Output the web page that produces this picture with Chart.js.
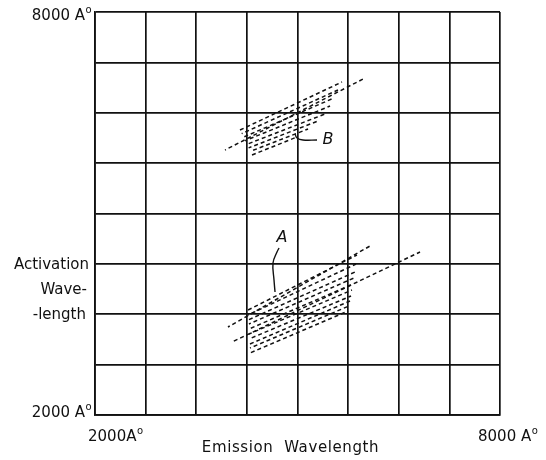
<!DOCTYPE html>
<html>
<head>
<meta charset="utf-8">
<script src="https://cdn.jsdelivr.net/npm/chart.js@4.4.1/dist/chart.umd.min.js"></script>
<style>
  html, body { margin: 0; padding: 0; background: #fff; }
  canvas { display: block; }
</style>
</head>
<body>
<canvas id="spectrum" width="546" height="460"></canvas>
<script>
// axis range (Angstrom) and grid positions
const axisMin = 2000;
const axisMax = 8000;
const gridTicks = [2000, 2750, 3500, 4250, 5000, 5750, 6500, 7250, 8000];

// band A: hatch lines (start / end points), last two are the long extended lines
const bandAx0 = [4267, 4267, 4267, 4281, 4281, 4281, 4281, 4296, 4296, 4296, 3970, 4030];
const bandAy0 = [3563, 3489, 3414, 3355, 3280, 3206, 3131, 3057, 2997, 2923, 3310, 3087];
const bandAx1 = [5881, 5867, 5852, 5837, 5822, 5807, 5793, 5778, 5763, 5748, 6074, 6815];
const bandAy1 = [4382, 4248, 4129, 4040, 3950, 3861, 3772, 3697, 3623, 3548, 4516, 4427];

// band B: hatch lines, last one is the long extended line
const bandBx0 = [4148, 4173, 4199, 4224, 4250, 4276, 4301, 4326, 3926];
const bandBy0 = [6243, 6189, 6137, 6084, 6030, 5977, 5925, 5871, 5945];
const bandBx1 = [5659, 5600, 5541, 5482, 5407, 5304, 5156, 4993, 6000];
const bandBy1 = [6958, 6839, 6720, 6600, 6481, 6377, 6258, 6139, 7017];

// labels and their leader curves
const leaderAx = [4726, 4696, 4637, 4652, 4667];
const leaderAy = [4486, 4426, 4263, 4010, 3831];
const leaderBx = [5289, 5081, 4993, 4963];
const leaderBy = [6094, 6094, 6124, 6184];
const labelA = { text: "A", x: 4770, y: 4635 };
const labelB = { text: "B", x: 5452, y: 6094 };

const INK = "#111";

function hatchSets(x0, y0, x1, y1) {
    return x0.map((v, i) => ({
        data: [{ x: v, y: y0[i] }, { x: x1[i], y: y1[i] }],
        showLine: true,
        borderColor: INK,
        borderWidth: 1.5,
        borderDash: [4, 3],
        borderDashOffset: (i * 3) % 7,
        pointRadius: 0,
    }));
}

function leaderSet(xs, ys) {
    return {
        data: xs.map((v, i) => ({ x: v, y: ys[i] })),
        showLine: true,
        borderColor: INK,
        borderWidth: 1.4,
        tension: 0.4,
        pointRadius: 0,
    };
}

const FONT = '15px "DejaVu Sans"';

// text with a raised small "o" (Angstrom sign as lettered in the figure)
function drawAngstrom(ctx, text, left, midY) {
    ctx.textAlign = "left";
    ctx.textBaseline = "middle";
    ctx.font = FONT;
    ctx.fillText(text, left, midY);
    const w = ctx.measureText(text).width;
    ctx.font = '10px "DejaVu Sans"';
    ctx.fillText("o", left + w + 0.5, midY - 6);
    ctx.font = FONT;
}

function angstromWidth(ctx, text) {
    ctx.font = FONT;
    return ctx.measureText(text).width + 7;
}

const textPlugin = {
    id: "textLabels",
    afterDraw(chart) {
        const { ctx, chartArea: a, scales: { x, y } } = chart;
        ctx.save();
        ctx.fillStyle = INK;

        // y axis end labels (right edge just left of the frame)
        drawAngstrom(ctx, "8000 A", a.left - 3 - angstromWidth(ctx, "8000 A"), y.getPixelForValue(axisMax) + 4);
        drawAngstrom(ctx, "2000 A", a.left - 3 - angstromWidth(ctx, "2000 A"), y.getPixelForValue(axisMin) - 2);

        // x axis end labels
        drawAngstrom(ctx, "2000A", x.getPixelForValue(axisMin) - 7, a.bottom + 22);
        drawAngstrom(ctx, "8000 A", x.getPixelForValue(axisMax) - 22, a.bottom + 22);

        // axis titles
        ctx.font = FONT;
        ctx.letterSpacing = "0.6px";
        ctx.textAlign = "center";
        ctx.textBaseline = "middle";
        ctx.fillText("Emission  Wavelength", (a.left + a.right) / 2 - 7, a.bottom + 33);
        ctx.letterSpacing = "0px";
        ctx.textAlign = "right";
        ctx.fillText("Activation", a.left - 6, 265);
        ctx.fillText("Wave-", a.left - 8, 290);
        ctx.fillText("-length", a.left - 9, 315);

        // band labels
        ctx.font = 'italic 16px "DejaVu Sans"';
        ctx.textAlign = "center";
        ctx.fillText(labelA.text, x.getPixelForValue(labelA.x), y.getPixelForValue(labelA.y));
        ctx.fillText(labelB.text, x.getPixelForValue(labelB.x), y.getPixelForValue(labelB.y));
        ctx.restore();
    },
};

const gridOpts = {
    color: INK,
    lineWidth: 1.7,
    drawTicks: false,
};

new Chart(document.getElementById("spectrum"), {
    type: "scatter",
    data: {
        datasets: [
            ...hatchSets(bandAx0, bandAy0, bandAx1, bandAy1),
            ...hatchSets(bandBx0, bandBy0, bandBx1, bandBy1),
            leaderSet(leaderAx, leaderAy),
            leaderSet(leaderBx, leaderBy),
        ],
    },
    options: {
        responsive: false,
        animation: false,
        layout: { padding: { left: 95, top: 12, right: 46, bottom: 45 } },
        plugins: { legend: { display: false }, tooltip: { enabled: false } },
        scales: {
            x: {
                type: "linear",
                min: axisMin,
                max: axisMax,
                afterBuildTicks: (s) => { s.ticks = gridTicks.map(v => ({ value: v })); },
                ticks: { display: false },
                grid: gridOpts,
                border: { color: INK, width: 1.7 },
            },
            y: {
                type: "linear",
                min: axisMin,
                max: axisMax,
                afterBuildTicks: (s) => { s.ticks = gridTicks.map(v => ({ value: v })); },
                ticks: { display: false },
                grid: gridOpts,
                border: { color: INK, width: 1.7 },
            },
        },
    },
    plugins: [textPlugin],
});
</script>
</body>
</html>
